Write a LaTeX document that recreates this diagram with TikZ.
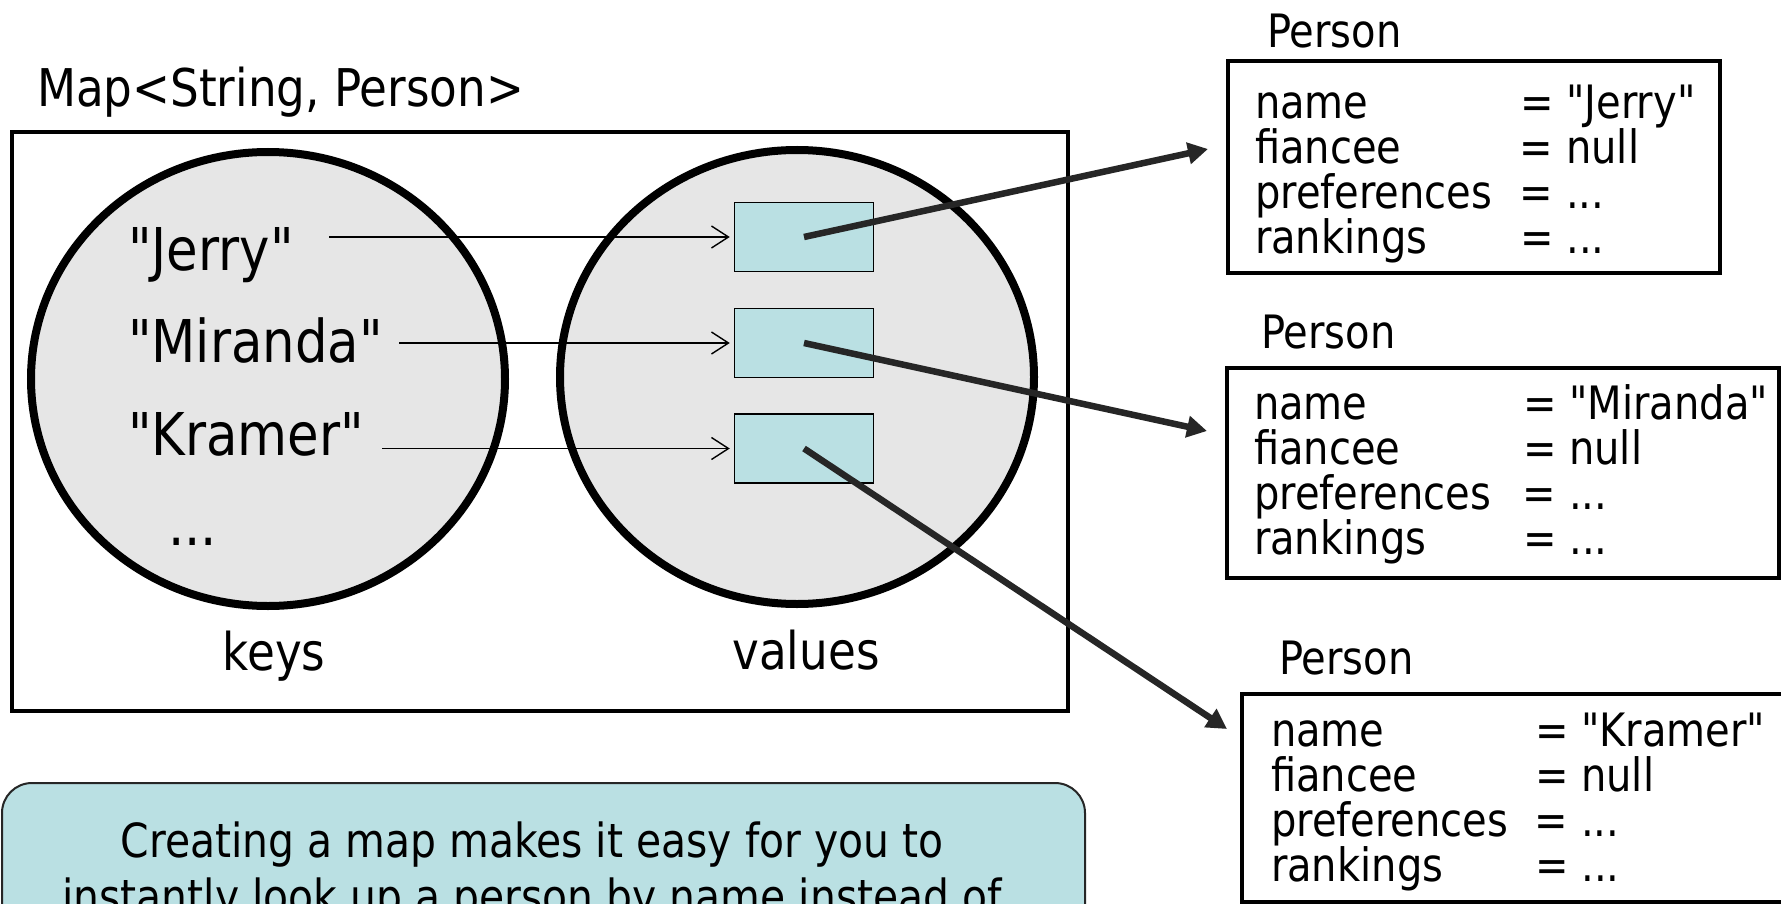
\documentclass[tikz,border=0pt]{standalone}
\usepackage{fontspec}
\setmainfont{DejaVu Sans}[FakeStretch=0.87, Ligatures=TeXOff]
\usetikzlibrary{arrows.meta,shapes.geometric}
\definecolor{valblue}{HTML}{BAE0E3}
\definecolor{ellgray}{HTML}{E6E6E6}
\definecolor{arrgray}{HTML}{262626}
\newcommand{\dq}{\symbol{34}}
\tikzset{
  txt/.style={inner sep=0pt, outer sep=0pt, anchor=base west, text=black},
  bigfont/.style={font=\fontsize{59}{70}\selectfont},
  midfont/.style={font=\fontsize{52}{62}\selectfont},
  smallfont/.style={font=\fontsize{46}{45}\selectfont},
  notefont/.style={font=\fontsize{47}{56}\selectfont},
  setellipse/.style={ellipse, draw=black, line width=8pt, fill=ellgray, inner sep=0pt,
                     minimum width=474pt, minimum height=454pt},
  valbox/.style={draw=black, line width=1.5pt, fill=valblue, inner sep=0pt,
                 minimum width=139pt, minimum height=69pt},
  pbox/.style={draw=black, line width=3.5pt, inner sep=0pt},
  keyarrow/.style={line width=1.4pt, -{Straight Barb[length=17pt,width=22pt]}, shorten >=4pt},
  refarrow/.style={line width=6.5pt, draw=arrgray, -{Triangle[length=20pt,width=21pt]}},
}
\newcommand{\personlines}[5]{%
  \node[txt, smallfont] (#1a) at (#2,#3) {\makebox[#4][l]{name}= \dq#5\dq};
  \node[txt, smallfont] (#1b) at (#2,#3+45) {\makebox[#4][l]{fiancee}= null};
  \node[txt, smallfont] (#1c) at (#2,#3+90) {\makebox[#4][l]{preferences}= ...};
  \node[txt, smallfont] (#1d) at (#2,#3+135) {\makebox[#4][l]{rankings}= ...};
}
\begin{document}
\begin{tikzpicture}[x=1pt, y=-1pt]
\useasboundingbox (0,0) rectangle (1781,904);
\clip (0,0) rectangle (1781,904);
\fill[white] (0,0) rectangle (1781,904);

% map frame
\node[txt, midfont] (maplabel) at (37,107) {Map<String, Person>};
\node[draw=black, line width=3.5pt, inner sep=0pt, minimum width=1056pt, minimum height=579pt] (map) at (540,421.5) {};

% sets
\node[setellipse] (keyset) at (268,379) {};
\node[setellipse] (valset) at (797,377) {};

% value cells
\node[valbox] (v1) at (804,237) {};
\node[valbox] (v2) at (804,343) {};
\node[valbox] (v3) at (804,448.5) {};

% keys
\node[txt, bigfont] (k1) at (128,270) {\dq Jerry\dq};
\node[txt, bigfont] (k2) at (128,362) {\dq Miranda\dq};
\node[txt, bigfont] (k3) at (128,455) {\dq Kramer\dq};
\node[txt, bigfont] (k4) at (168,545) {...};

\coordinate (s1) at (329,237);
\coordinate (s2) at (399,343);
\coordinate (s3) at (382,448.5);
\draw[keyarrow] (s1) -- (v1.west);
\draw[keyarrow] (s2) -- (v2.west);
\draw[keyarrow] (s3) -- (v3.west);

\node[midfont, inner sep=0pt, anchor=base] (keyslabel) at (274,670) {keys};
\node[midfont, inner sep=0pt, anchor=base] (valueslabel) at (806,669) {values};

% person objects
\node[txt, smallfont] (pl1) at (1267,48) {Person};
\node[pbox, minimum width=492pt, minimum height=212pt] (pb1) at (1474,167) {};
\personlines{pa}{1255}{119}{265pt}{Jerry}

\node[txt, smallfont] (pl2) at (1261,348) {Person};
\node[pbox, minimum width=552pt, minimum height=210pt] (pb2) at (1503,473) {};
\personlines{pm}{1254}{419}{269pt}{Miranda}

\node[txt, smallfont] (pl3) at (1279,674) {Person};
\node[pbox, minimum width=558pt, minimum height=208pt] (pb3) at (1521,798) {};
\personlines{pk}{1271}{746}{264pt}{Kramer}

% note
\node[draw=black!85, line width=2pt, fill=valblue, rounded corners=30pt, inner sep=0pt,
      minimum width=1083pt, minimum height=180pt] (note) at (543.5,873) {};
\node[notefont, inner sep=0pt, anchor=base] (note1) at (532,857) {Creating a map makes it easy for you to};
\node[notefont, inner sep=0pt, anchor=base] (note2) at (532,913) {instantly look up a person by name instead of};

% references
\coordinate (t1) at (1208,149);
\coordinate (t2) at (1207,431);
\coordinate (t3) at (1227,729);
\draw[refarrow] (v1.center) -- (t1);
\draw[refarrow] (v2.center) -- (t2);
\draw[refarrow] (v3.center) -- (t3);
\end{tikzpicture}
\end{document}
